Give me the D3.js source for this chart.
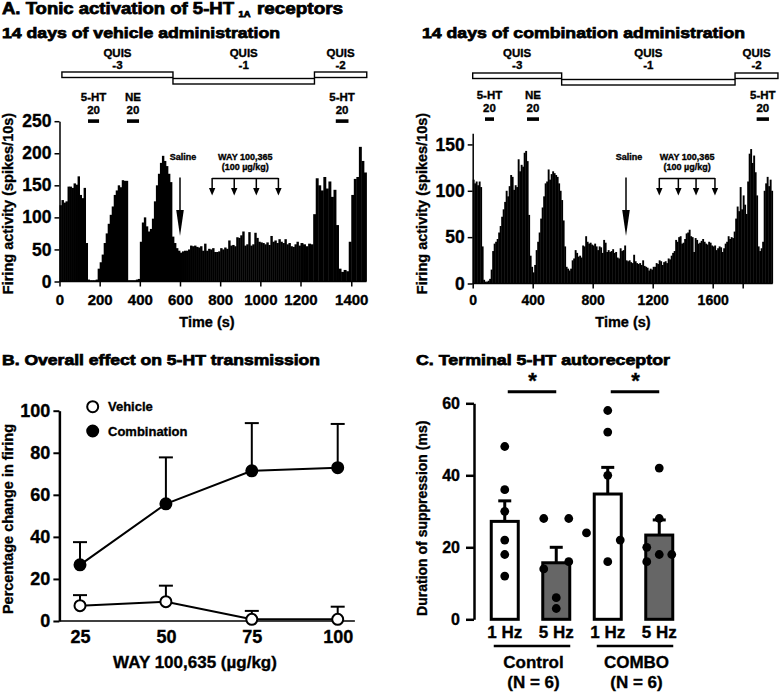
<!DOCTYPE html>
<html>
<head>
<meta charset="utf-8">
<script src="https://cdn.jsdelivr.net/npm/d3@7"></script>
<style>
body { margin: 0; background: #fff; }
svg { display: block; font-family: "Liberation Sans", Arial, sans-serif; font-weight: bold; }
svg text { stroke: #000; stroke-width: 0.35px; }
svg text.title { stroke-width: 0.75px; }
</style>
</head>
<body>
<svg id="fig" width="780" height="693"></svg>
<script>
// ---- A. firing rate histograms (spikes / 10 s bin) ----
var binSize = 10;

var vehicleRate = [
  119,127,123,125,148,148,146,153,151,164,135,130,146,60,
  3,2,2,2,3,
  20,30,42,60,75,90,104,117,135,142,150,147,158,157,157,
  2,2,2,2,3,4,
  62,92,100,86,78,82,98,125,150,168,185,196,188,180,168,155,
  70,60,52,48,45,47,48,48,50,56,55,56,54,53,55,48,59,48,51,50,52,46,46,47,52,
  50,53,51,64,56,57,55,69,68,72,78,56,58,77,56,58,76,68,62,61,60,58,61,57,71,
  62,64,60,66,62,60,66,58,60,55,54,58,62,56,60,58,55,59,58,
  105,161,150,142,163,145,156,132,143,88,20,15,18,16,62,135,160,163,210,188,170
];

var comboRate = [
  112,108,110,106,110,104,40,
  4,2,2,3,5,15,
  35,43,45,48,55,62,72,80,88,100,94,105,117,115,101,106,104,134,121,128,126,141,143,132,74,
  30,18,12,20,
  36,45,55,70,82,94,108,110,123,112,118,121,119,117,115,108,100,90,68,40,18,
  16,14,16,25,27,36,33,29,30,28,41,40,51,45,43,44,42,41,43,40,36,40,39,33,47,
  44,34,36,34,35,37,33,34,28,27,38,35,36,41,25,24,25,23,22,31,24,22,21,22,20,
  25,19,18,17,14,16,
  15,18,18,22,21,25,24,20,23,24,22,27,26,30,33,35,47,45,50,51,43,44,48,54,55,
  58,51,50,34,49,47,43,44,46,48,45,43,42,45,44,41,40,41,36,38,40,39,34,38,43,
  45,51,48,50,49,56,
  70,83,78,104,80,95,85,75,110,140,145,130,138,120,95,40,35,38,45,100,108,115,105,112,100
];

// QUIS ejection current periods (s)
var quisLabels = ["-3", "-1", "-2"];
var vehicleQuis = [[12, 565], [565, 1255], [1255, 1461]];
var comboQuis = [[0, 593], [593, 1749], [1749, 2035]];

// microiontophoretic applications (s)
var drugLabels = ["5-HT", "NE", "5-HT"];
var drugCurrent = ["20", "20", "20"];
var vehicleDrug = [[142, 197], [336, 396], [1339, 1389]];
var comboDrug = [[82, 142], [362, 442], [1893, 1975]];

var vehicleSaline = 600;
var comboSaline = 1022;
var vehicleWay = [760, 870, 980, 1090];
var comboWay = [1244, 1371, 1489, 1615];

// ---- B. dose response ----
var doses = [25, 50, 75, 100];
var vehicleMean = [7.3, 9.2, 0.8, 0.8];
var vehicleSem = [5.0, 7.6, 4.0, 6.0];
var comboMean = [26.7, 55.7, 71.4, 72.9];
var comboSem = [10.8, 22.1, 22.7, 20.8];

// ---- C. terminal autoreceptor ----
var barLabels = ["1 Hz", "5 Hz", "1 Hz", "5 Hz"];
var groupLabels = ["Control", "COMBO"];
var groupN = ["(N = 6)", "(N = 6)"];
var barMean = [27.2, 15.7, 34.8, 23.4];
var barSem = [5.7, 4.3, 7.4, 4.2];
var barPoints = [
  [48, 36, 30, 22, 18, 12],
  [28, 28, 14, 16, 6, 3],
  [58, 52, 40, 24, 22, 16],
  [42, 28, 20, 16, 18, 18]
];
var pointJitter = [
  [0, 0, 0, 0, 0, 0],
  [-1, 1, -1, 1, 0, 0],
  [0, 0, 0, -1.7, 1, 0],
  [0, 0, -1, -1, 0, 1]
];

var svg = d3.select("#fig");
svg.append("rect").attr("width", 780).attr("height", 693).attr("fill", "#fff");

function title(txt, x, y, size, len) {
  return svg.append("text")
    .attr("class", "title")
    .attr("x", x).attr("y", y)
    .attr("font-size", size)
    .attr("textLength", len)
    .attr("lengthAdjust", "spacingAndGlyphs")
    .text(txt);
}

function styleAxis(g, size) {
  g.attr("font-family", null).attr("font-size", size);
  g.selectAll("line").attr("stroke-width", 1.5);
  g.selectAll("text").attr("fill", "#000");
}

// titles
title("A. Tonic activation of 5-HT", 2, 13.5, 16, 232);
title("1A", 238.5, 16.5, 8.5, 12);
title("receptors", 257, 13.5, 16, 86);
title("14 days of vehicle administration", 2, 38.3, 15.5, 278);
title("14 days of combination administration", 422, 38.3, 15.5, 323);
title("B. Overall effect on 5-HT transmission", 2, 365.3, 15.5, 318);
title("C. Terminal 5-HT autoreceptor", 416, 365.3, 15.5, 254);

function drawTrace(cfg) {
  var x = d3.scaleLinear().domain(cfg.xDomain).range(cfg.xRange);
  var y = d3.scaleLinear().domain(cfg.yDomain).range(cfg.yRange);
  var g = svg.append("g");

  // histogram bins
  g.selectAll(".bin")
    .data(cfg.rates)
    .enter().append("rect")
    .attr("class", "bin")
    .attr("x", function(d, i) { return x(i * binSize); })
    .attr("width", function(d, i) { return x((i + 1) * binSize) - x(i * binSize) + 0.4; })
    .attr("y", function(d) { return y(d); })
    .attr("height", function(d) { return y(0) - y(d); })
    .attr("fill", "#000");

  // axes
  var xa = g.append("g")
    .attr("transform", "translate(0," + y(0) + ")")
    .call(d3.axisBottom(x).tickValues(cfg.xTicks).tickFormat(cfg.xFormat)
      .tickSize(5).tickPadding(cfg.xPad));
  xa.select(".domain").remove();
  xa.append("line").attr("x1", x(0)).attr("x2", x(cfg.xMax))
    .attr("stroke", "#000");
  styleAxis(xa, cfg.xFont);

  var ya = g.append("g")
    .attr("transform", "translate(" + x(0) + ",0)")
    .call(d3.axisLeft(y).tickValues(cfg.yTicks).tickSize(5).tickPadding(3).tickSizeOuter(0));
  ya.select(".domain").attr("stroke-width", 1.5);
  styleAxis(ya, 17.5);

  g.append("text")
    .attr("x", cfg.timeX).attr("y", 326.7)
    .attr("text-anchor", "middle").attr("font-size", 14.5)
    .text("Time (s)");
  g.append("text")
    .attr("transform", "translate(" + cfg.labelX + ",203.5)rotate(-90)")
    .attr("text-anchor", "middle").attr("font-size", 14.5)
    .text("Firing activity (spikes/10s)");

  // QUIS current steps
  g.selectAll(".quis")
    .data(cfg.quis)
    .enter().append("rect")
    .attr("x", function(d) { return x(d[0]); })
    .attr("width", function(d) { return x(d[1]) - x(d[0]); })
    .attr("y", function(d, i) { return quisLabels[i] === "-1" ? cfg.quisY + 6.5 : cfg.quisY; })
    .attr("height", 5.5)
    .attr("fill", "#fff").attr("stroke", "#000").attr("stroke-width", 1.4);
  cfg.quis.forEach(function(d, i) {
    var cx = (x(d[0]) + x(d[1])) / 2;
    g.append("text").attr("x", cx).attr("y", 57).attr("text-anchor", "middle")
      .attr("font-size", 11.5).text("QUIS");
    g.append("text").attr("x", cx).attr("y", 68.5).attr("text-anchor", "middle")
      .attr("font-size", 11.5).text(quisLabels[i]);
  });

  // drug applications
  cfg.drug.forEach(function(d, i) {
    var cx = (x(d[0]) + x(d[1])) / 2;
    g.append("rect").attr("x", x(d[0])).attr("width", x(d[1]) - x(d[0]))
      .attr("y", cfg.drugY).attr("height", 3.6).attr("fill", "#000");
    g.append("text").attr("x", cx).attr("y", cfg.drugY - 18.5).attr("text-anchor", "middle")
      .attr("font-size", 11.5).text(drugLabels[i]);
    g.append("text").attr("x", cx).attr("y", cfg.drugY - 5).attr("text-anchor", "middle")
      .attr("font-size", 11.5).text(drugCurrent[i]);
  });

  // saline injection
  var sx = x(cfg.saline);
  g.append("text").attr("x", sx + 3).attr("y", 159.5).attr("text-anchor", "middle")
    .attr("font-size", 9).text("Saline");
  g.append("line").attr("x1", sx).attr("x2", sx).attr("y1", 177.5).attr("y2", 214)
    .attr("stroke", "#000").attr("stroke-width", 1.5);
  g.append("path")
    .attr("d", "M" + (sx - 3.8) + ",210L" + (sx + 3.8) + ",210L" + sx + ",236Z")
    .attr("fill", "#000");

  // WAY 100,635 injections
  var w0 = x(cfg.way[0]), w1 = x(cfg.way[cfg.way.length - 1]);
  g.append("text").attr("x", (w0 + w1) / 2).attr("y", 159.5).attr("text-anchor", "middle")
    .attr("font-size", 9).text("WAY 100,365");
  g.append("text").attr("x", (w0 + w1) / 2).attr("y", 169.5).attr("text-anchor", "middle")
    .attr("font-size", 9).text("(100 \u00b5g/kg)");
  g.append("line").attr("x1", w0).attr("x2", w1).attr("y1", 178.5).attr("y2", 178.5)
    .attr("stroke", "#000").attr("stroke-width", 1.5);
  cfg.way.forEach(function(t) {
    var wx = x(t);
    g.append("line").attr("x1", wx).attr("x2", wx).attr("y1", 178).attr("y2", 189)
      .attr("stroke", "#000").attr("stroke-width", 1.5);
    g.append("path")
      .attr("d", "M" + (wx - 3.2) + ",188L" + (wx + 3.2) + ",188L" + wx + ",195.5Z")
      .attr("fill", "#000");
  });
}

drawTrace({
  rates: vehicleRate,
  xDomain: [0, 1200, 1460], xRange: [59.5, 300.5, 366.5], xMax: 1460,
  xTicks: d3.range(0, 1401, 200), xFormat: d3.format("d"), xPad: 8, xFont: 15,
  yDomain: [0, 250], yRange: [281.5, 121.2], yTicks: d3.range(0, 251, 50),
  timeX: 207, labelX: 12.5,
  quis: vehicleQuis, quisY: 72,
  drug: vehicleDrug, drugY: 119.3,
  saline: vehicleSaline, way: vehicleWay
});

drawTrace({
  rates: comboRate,
  xDomain: [0, 2000], xRange: [472.7, 772.7], xMax: 2000,
  xTicks: [0, 400, 800, 1200, 1600, 1800],
  xFormat: function(d) { return d === 1800 ? "" : d; }, xPad: 7, xFont: 14,
  yDomain: [0, 162], yRange: [283.5, 133.3], yTicks: [0, 50, 100, 150],
  timeX: 623, labelX: 427,
  quis: comboQuis, quisY: 73,
  drug: comboDrug, drugY: 117.3,
  saline: comboSaline, way: comboWay
});

// ---- panel B ----
var xB = d3.scaleLinear().domain([25, 100]).range([80, 337.7]);
var yB = d3.scaleLinear().domain([0, 100]).range([621, 410.7]);
var gB = svg.append("g");

var bx = gB.append("g").attr("transform", "translate(0," + yB(0) + ")")
  .call(d3.axisBottom(xB).tickValues(doses).tickSize(0).tickPadding(9.5));
bx.select(".domain").remove();
bx.append("line").attr("x1", xB(19)).attr("x2", xB(105)).attr("stroke", "#000").attr("stroke-width", 2.5);
styleAxis(bx, 18);

var by = gB.append("g").attr("transform", "translate(" + xB(19) + ",0)")
  .call(d3.axisLeft(yB).tickValues(d3.range(0, 101, 20)).tickSize(6).tickPadding(3).tickSizeOuter(0));
by.select(".domain").attr("stroke-width", 2.5);
styleAxis(by, 18);
by.selectAll("line").attr("stroke-width", 2);

gB.append("text").attr("x", 195).attr("y", 668.3).attr("text-anchor", "middle")
  .attr("font-size", 17).text("WAY 100,635 (\u00b5g/kg)");
gB.append("text").attr("transform", "translate(12.5,519)rotate(-90)")
  .attr("text-anchor", "middle").attr("font-size", 14.5).text("Percentage change in firing");

var seriesB = [
  { mean: vehicleMean, sem: vehicleSem, fill: "#fff", name: "Vehicle" },
  { mean: comboMean, sem: comboSem, fill: "#000", name: "Combination" }
];
var lineB = d3.line()
  .x(function(d, i) { return xB(doses[i]); })
  .y(function(d) { return yB(d); });

seriesB.forEach(function(s) {
  doses.forEach(function(dose, i) {
    var top = yB(s.mean[i] + s.sem[i]);
    gB.append("line").attr("x1", xB(dose)).attr("x2", xB(dose))
      .attr("y1", yB(s.mean[i])).attr("y2", top)
      .attr("stroke", "#000").attr("stroke-width", 2);
    gB.append("line").attr("x1", xB(dose) - 7).attr("x2", xB(dose) + 7)
      .attr("y1", top).attr("y2", top)
      .attr("stroke", "#000").attr("stroke-width", 2);
  });
  gB.append("path").datum(s.mean).attr("d", lineB)
    .attr("fill", "none").attr("stroke", "#000").attr("stroke-width", 2);
});
seriesB.forEach(function(s) {
  gB.selectAll(null).data(s.mean).enter().append("circle")
    .attr("cx", function(d, i) { return xB(doses[i]); })
    .attr("cy", function(d) { return yB(d); })
    .attr("r", 5.5)
    .attr("fill", s.fill).attr("stroke", "#000").attr("stroke-width", 2);
});

// legend
seriesB.forEach(function(s, i) {
  var ly = 406.7 + i * 24.3;
  gB.append("circle").attr("cx", 92.7).attr("cy", ly).attr("r", 5.5)
    .attr("fill", s.fill).attr("stroke", "#000").attr("stroke-width", 2);
  gB.append("text").attr("x", 108).attr("y", ly + 4.5).attr("font-size", 13).text(s.name);
});

// ---- panel C ----
var xC = d3.scalePoint().domain(d3.range(4)).range([479, 685]).padding(0.5);
var yC = d3.scaleLinear().domain([0, 60]).range([619.3, 403.3]);
var gC = svg.append("g");

var cy = gC.append("g").attr("transform", "translate(474,0)")
  .call(d3.axisLeft(yC).tickValues([0, 20, 40, 60]).tickSize(8).tickPadding(6).tickSizeOuter(0));
cy.select(".domain").attr("stroke-width", 2.5);
styleAxis(cy, 16);
cy.selectAll("line").attr("stroke-width", 2.5);

gC.append("text").attr("transform", "translate(427,518.3)rotate(-90)")
  .attr("text-anchor", "middle").attr("font-size", 14).text("Duration of suppression (ms)");

var barW = 27;
gC.selectAll(".bar").data(barMean).enter().append("rect")
  .attr("x", function(d, i) { return xC(i) - barW / 2; })
  .attr("width", barW)
  .attr("y", function(d) { return yC(d); })
  .attr("height", function(d) { return yC(0) - yC(d); })
  .attr("fill", function(d, i) { return i % 2 ? "#666" : "#fff"; })
  .attr("stroke", "#000").attr("stroke-width", 3);

barMean.forEach(function(m, i) {
  var top = yC(m + barSem[i]);
  gC.append("line").attr("x1", xC(i)).attr("x2", xC(i)).attr("y1", yC(m)).attr("y2", top)
    .attr("stroke", "#000").attr("stroke-width", 3);
  gC.append("line").attr("x1", xC(i) - 6.5).attr("x2", xC(i) + 6.5).attr("y1", top).attr("y2", top)
    .attr("stroke", "#000").attr("stroke-width", 3);
  gC.selectAll(null).data(barPoints[i]).enter().append("circle")
    .attr("cx", function(d, j) { return xC(i) + pointJitter[i][j] * 12.5; })
    .attr("cy", function(d) { return yC(d); })
    .attr("r", 4.4).attr("fill", "#000");
  gC.append("text").attr("x", xC(i)).attr("y", 638.3).attr("text-anchor", "middle")
    .attr("font-size", 17).text(barLabels[i]);
});

groupLabels.forEach(function(name, k) {
  var a = xC(2 * k), b = xC(2 * k + 1), mid = (a + b) / 2;
  gC.append("line").attr("x1", a - 11).attr("x2", b + 14).attr("y1", 646).attr("y2", 646)
    .attr("stroke", "#000").attr("stroke-width", 2.5);
  gC.append("text").attr("x", mid + 3).attr("y", 668.3).attr("text-anchor", "middle")
    .attr("font-size", 17).text(name);
  gC.append("text").attr("x", mid + 3).attr("y", 688.3).attr("text-anchor", "middle")
    .attr("font-size", 17).text(groupN[k]);
  // significance
  gC.append("line").attr("x1", a + 3).attr("x2", b).attr("y1", 391.7).attr("y2", 391.7)
    .attr("stroke", "#000").attr("stroke-width", 3);
  gC.append("text").attr("x", mid + 2).attr("y", 388).attr("text-anchor", "middle")
    .attr("font-size", 22).text("*");
});
</script>
</body>
</html>
